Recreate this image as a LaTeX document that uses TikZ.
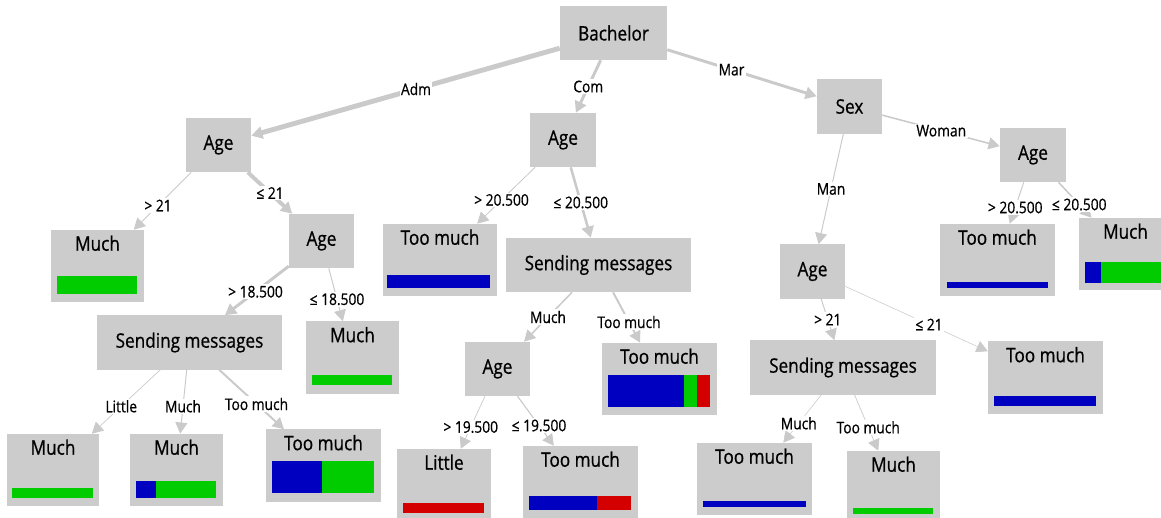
\documentclass[tikz,border=0pt]{standalone}
\usepackage{fontspec}
\setmainfont{Open Sans}[FakeStretch=0.86, FakeBold=0.7]
\usetikzlibrary{arrows.meta,calc}
\definecolor{boxgray}{HTML}{CCCCCC}
\definecolor{edgegray}{HTML}{CACACA}
\definecolor{clsblue}{HTML}{0000C0}
\definecolor{clsgreen}{HTML}{00CC00}
\definecolor{clsred}{HTML}{D40000}

\begin{document}
\begin{tikzpicture}[x=0.025cm, y=-0.025cm,
    split/.style={fill=boxgray, inner sep=0pt, minimum height=1.35cm,
      font=\fontsize{14.2}{17}\selectfont},
    leaf/.style={fill=boxgray, inner sep=0pt, minimum height=1.8cm},
    llab/.style={anchor=base, yshift=-0.525cm, inner sep=0pt,
      font=\fontsize{14.2}{17}\selectfont},
    arr/.style={draw=edgegray, -{Triangle[length=0.28cm, width=0.3cm]}},
    elab/.style={fill=white, inner sep=1pt, font=\fontsize{11.4}{13}\selectfont},
  ]
  \useasboundingbox (0,0) rectangle (1161,518);
  % split nodes
  \node[split, minimum width=2.675cm] (bach) at (613.5,33) {Bachelor};
  \node[split, minimum width=1.625cm] (age1) at (218.5,145) {Age};
  \node[split, minimum width=1.65cm] (age2) at (563,140) {Age};
  \node[split, minimum width=1.625cm] (sex) at (849.5,106.5) {Sex};
  \node[split, minimum width=1.65cm] (age3) at (1033,155) {Age};
  \node[split, minimum width=1.625cm] (age4) at (321.5,241) {Age};
  \node[split, minimum width=4.625cm] (send1) at (189.5,342.5) {Sending messages};
  \node[split, minimum width=4.625cm] (send2) at (598.5,265) {Sending messages};
  \node[split, minimum width=1.625cm] (age5) at (497.5,369) {Age};
  \node[split, minimum width=1.625cm] (age6) at (812.5,271.5) {Age};
  \node[split, minimum width=4.65cm] (send3) at (843,367.5) {Sending messages};
  % leaves
  \node[leaf, minimum width=2.325cm, label={[llab]north:Much}] (much1) at (97.5,266) {};
  \node[leaf, minimum width=2.325cm, label={[llab]north:Much}] (much2) at (352.5,357.5) {};
  \node[leaf, minimum width=2.3cm, label={[llab]north:Much}] (much3) at (53,470) {};
  \node[leaf, minimum width=2.325cm, label={[llab]north:Much}] (much4) at (176.5,470) {};
  \node[leaf, minimum width=2.875cm, label={[llab]north:Too much}] (toom1) at (323.5,465.5) {};
  \node[leaf, minimum width=2.85cm, label={[llab]north:Too much}] (toom2) at (440,260) {};
  \node[leaf, minimum width=2.875cm, label={[llab]north:Too much}] (toom3) at (659.5,379) {};
  \node[leaf, minimum width=2.35cm, label={[llab]north:Little}] (little) at (444,485) {};
  \node[leaf, minimum width=2.875cm, label={[llab]north:Too much}] (toom4) at (580.5,482) {};
  \node[leaf, minimum width=2.875cm, label={[llab]north:Too much}] (toom5) at (1045.5,377.5) {};
  \node[leaf, minimum width=2.875cm, label={[llab]north:Too much}] (toom6) at (754.5,479) {};
  \node[leaf, minimum width=2.325cm, label={[llab]north:Much}] (much5) at (893.5,487) {};
  \node[leaf, minimum width=2.875cm, label={[llab]north:Too much}] (toom7) at (997.5,260) {};
  \node[leaf, minimum width=2.325cm, label={[llab]north:Much}] (much6) at (1125.5,254) {};
  % class bars
  \fill[clsgreen] (57,276) rectangle (137,294);
  \fill[clsgreen] (312,375) rectangle (392,385);
  \fill[clsgreen] (12,488) rectangle (93,498);
  \fill[clsblue] (136,481) rectangle (156,498);
  \fill[clsgreen] (156,481) rectangle (216,498);
  \fill[clsblue] (272,461) rectangle (322,493);
  \fill[clsgreen] (322,461) rectangle (374,493);
  \fill[clsblue] (387,275) rectangle (490,288);
  \fill[clsblue] (608,375) rectangle (684,407);
  \fill[clsgreen] (684,375) rectangle (697,407);
  \fill[clsred] (697,375) rectangle (710,407);
  \fill[clsred] (403,503) rectangle (484,513);
  \fill[clsblue] (529,496) rectangle (597,510);
  \fill[clsred] (597,496) rectangle (631,510);
  \fill[clsblue] (994,396) rectangle (1096,406);
  \fill[clsblue] (703,501) rectangle (806,507);
  \fill[clsgreen] (853,508) rectangle (933,514);
  \fill[clsblue] (947,282) rectangle (1048,288);
  \fill[clsblue] (1085,262) rectangle (1101,283);
  \fill[clsgreen] (1101,262) rectangle (1166,283);
  % edges
  \draw[arr, line width=3.5pt] (bach) -- (age1) node[elab] (eadm) at ($(bach)!.5!(age1)$) {Adm};
  \draw[arr, line width=2.1pt] (bach) -- (age2) node[elab] (ecom) at ($(bach)!.5!(age2)$) {Com};
  \draw[arr, line width=2.1pt] (bach) -- (sex) node[elab] (emar) at ($(bach)!.5!(sex)$) {Mar};
  \draw[arr, line width=0.7pt] (age1) -- (much1) node[elab] (ea1) at ($(age1)!.5!(much1)$) {> 21};
  \draw[arr, line width=2.8pt] (age1) -- (age4) node[elab] (ea2) at ($(age1)!.5!(age4)$) {≤ 21};
  \draw[arr, line width=2.1pt] (age4) -- (send1) node[elab] (ea3) at ($(age4)!.5!(send1)$) {> 18.500};
  \draw[arr, line width=0.7pt] (age4) -- (much2) node[elab] (ea4) at ($(age4)!.5!(much2)$) {≤ 18.500};
  \draw[arr, line width=0.5pt] (send1) -- (much3) node[elab] (es1) at ($(send1)!.5!(much3)$) {Little};
  \draw[arr, line width=0.7pt] (send1) -- (much4) node[elab] (es2) at ($(send1)!.5!(much4)$) {Much};
  \draw[arr, line width=1.4pt] (send1) -- (toom1) node[elab] (es3) at ($(send1)!.5!(toom1)$) {Too much};
  \draw[arr, line width=0.6pt] (age2) -- (toom2) node[elab] (eb1) at ($(age2)!.5!(toom2)$) {> 20.500};
  \draw[arr, line width=1.8pt] (age2) -- (send2) node[elab] (eb2) at ($(age2)!.5!(send2)$) {≤ 20.500};
  \draw[arr, line width=1.1pt] (send2) -- (age5) node[elab] (eb3) at ($(send2)!.5!(age5)$) {Much};
  \draw[arr, line width=1.4pt] (send2) -- (toom3) node[elab] (eb4) at ($(send2)!.5!(toom3)$) {Too much};
  \draw[arr, line width=0.5pt] (age5) -- (little) node[elab] (eb5) at ($(age5)!.5!(little)$) {> 19.500};
  \draw[arr, line width=0.8pt] (age5) -- (toom4) node[elab] (eb6) at ($(age5)!.5!(toom4)$) {≤ 19.500};
  \draw[arr, line width=0.7pt] (sex) -- (age6) node[elab] (ec1) at ($(sex)!.5!(age6)$) {Man};
  \draw[arr, line width=1.1pt] (sex) -- (age3) node[elab] (ec2) at ($(sex)!.5!(age3)$) {Woman};
  \draw[arr, line width=0.7pt] (age3) -- (toom7) node[elab] (ec3) at ($(age3)!.5!(toom7)$) {> 20.500};
  \draw[arr, line width=1.1pt] (age3) -- (much6) node[elab] (ec4) at ($(age3)!.5!(much6)$) {≤ 20.500};
  \draw[arr, line width=0.7pt] (age6) -- (send3) node[elab] (ec5) at ($(age6)!.5!(send3)$) {> 21};
  \draw[arr, line width=0.4pt] (age6) -- (toom5) node[elab] (ec6) at ($(age6)!.5!(toom5)$) {≤ 21};
  \draw[arr, line width=0.4pt] (send3) -- (toom6) node[elab] (ec7) at ($(send3)!.5!(toom6)$) {Much};
  \draw[arr, line width=0.5pt] (send3) -- (much5) node[elab] (ec8) at ($(send3)!.5!(much5)$) {Too much};
\end{tikzpicture}
\end{document}
